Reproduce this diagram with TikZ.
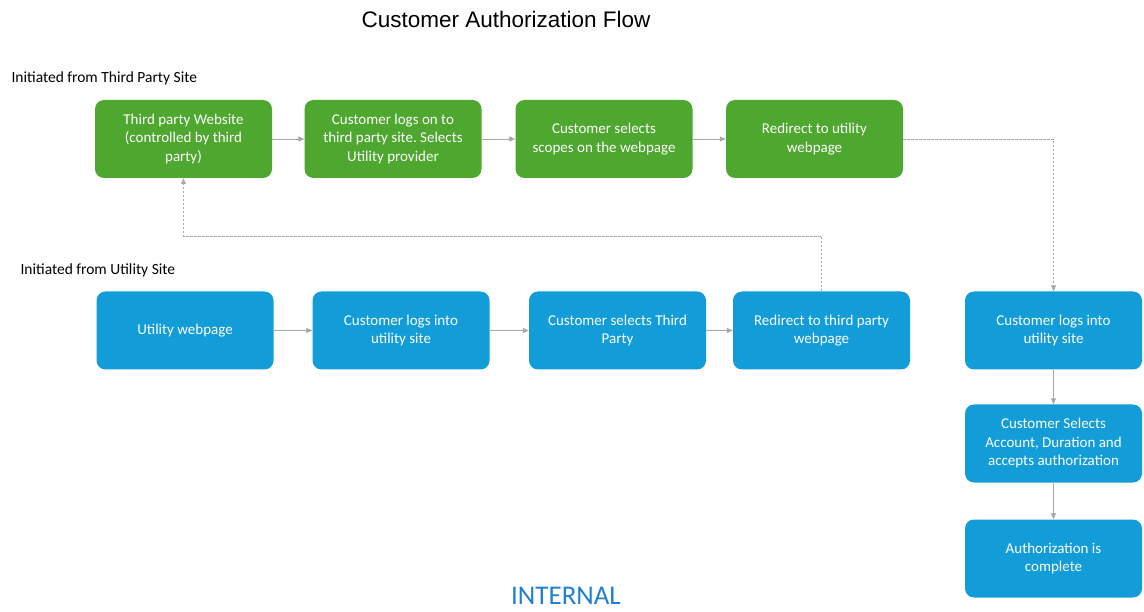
\documentclass[tikz,border=0pt]{standalone}
\usepackage{fontspec}
\setmainfont{Carlito}
\newfontfamily\titlefont{Liberation Sans}
\usetikzlibrary{arrows.meta}
\definecolor{tpgreen}{HTML}{4EA72E}
\definecolor{utblue}{HTML}{129DD8}
\definecolor{flowgray}{HTML}{A8A8A8}
\definecolor{markblue}{HTML}{1F7FD0}
\frenchspacing

\begin{document}
\begin{tikzpicture}[x=1pt,y=-1pt,
    stepbox/.style={rounded corners=9pt,minimum width=177pt,minimum height=78pt,
        align=center,text=white,font=\fontsize{15}{18.5}\selectfont},
    greenbox/.style={stepbox,fill=tpgreen},
    bluebox/.style={stepbox,fill=utblue},
    flow/.style={flowgray,line width=0.8pt,-{Triangle[length=6pt,width=5pt]}},
    jump/.style={flow,dash pattern=on 2.5pt off 1.5pt}]
    \useasboundingbox (0,0) rectangle (1144,612);

    % Title and group labels
    \node[font=\titlefont\fontsize{22.5}{26}\selectfont] (title) at (506,19) {Customer Authorization Flow};
    \node[anchor=west,font=\fontsize{15.5}{18}\selectfont] (tplabel) at (8,78) {Initiated from Third Party Site};
    \node[anchor=west,font=\fontsize{15.5}{18}\selectfont] (utlabel) at (17,270) {Initiated from Utility Site};

    % Third party row
    \node[greenbox] (tp1) at (183.5,139) {Third party Website\\(controlled by third\\party)};
    \node[greenbox] (tp2) at (393,139) {Customer logs on to\\third party site. Selects\\Utility provider};
    \node[greenbox] (tp3) at (604,139) {Customer selects\\scopes on the webpage};
    \node[greenbox] (tp4) at (814.5,139) {Redirect to utility\\webpage};

    % Utility row
    \node[bluebox] (ut1) at (185,330.5) {Utility webpage};
    \node[bluebox] (ut2) at (401,330.5) {Customer logs into\\utility site};
    \node[bluebox] (ut3) at (617.5,330.5) {Customer selects Third\\Party};
    \node[bluebox] (ut4) at (821.5,330.5) {Redirect to third party\\webpage};

    % Common column
    \node[bluebox] (cm1) at (1053.5,330.5) {Customer logs into\\utility site};
    \node[bluebox] (cm2) at (1053.5,443.5) {Customer Selects\\Account, Duration and\\accepts authorization};
    \node[bluebox] (cm3) at (1053.5,558.5) {Authorization is\\complete};

    \node[text=markblue,inner sep=0pt,font=\fontsize{27}{30}\selectfont] (mark) at (566,596) {INTERNAL};

    % Connectors
    \draw[flow] (tp1) -- (tp2);
    \draw[flow] (tp2) -- (tp3);
    \draw[flow] (tp3) -- (tp4);
    \draw[flow] (ut1) -- (ut2);
    \draw[flow] (ut2) -- (ut3);
    \draw[flow] (ut3) -- (ut4);
    \draw[flow] (cm1) -- (cm2);
    \draw[flow] (cm2) -- (cm3);

    % Redirects between the rows
    \draw[jump] (tp4.east) -| (cm1.north);
    \draw[jump] (ut4.north) |- (502,236) -| (tp1.south);
\end{tikzpicture}
\end{document}
